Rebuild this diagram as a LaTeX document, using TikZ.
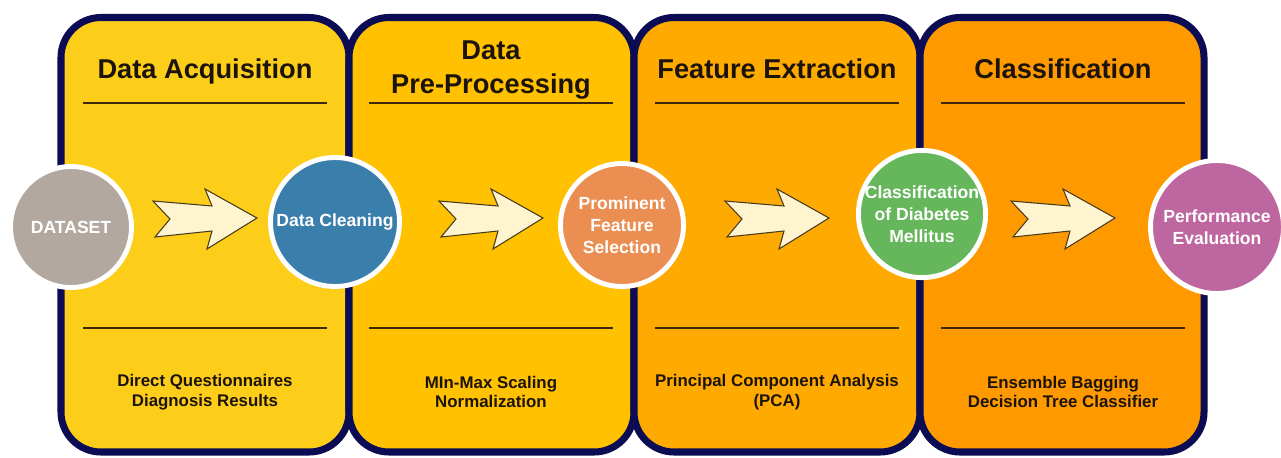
\documentclass[tikz,border=0pt]{standalone}
\usepackage{fontspec}
\setmainfont{Liberation Sans}
\usepackage{xcolor}
\definecolor{navy}{RGB}{12,12,84}
\definecolor{stageA}{RGB}{253,206,25}
\definecolor{stageB}{RGB}{255,193,0}
\definecolor{stageC}{RGB}{255,170,0}
\definecolor{stageD}{RGB}{255,153,0}
\definecolor{ink}{RGB}{28,20,12}
\definecolor{rulebrown}{RGB}{62,40,12}
\definecolor{arrowfill}{RGB}{255,244,208}
\definecolor{arrowline}{RGB}{70,58,28}
\definecolor{dsgray}{RGB}{178,168,160}
\definecolor{cleanblue}{RGB}{58,126,172}
\definecolor{featorange}{RGB}{235,142,82}
\definecolor{clsgreen}{RGB}{102,182,92}
\definecolor{evalpurple}{RGB}{190,102,160}
\usetikzlibrary{calc}
\tikzstyle{panel} = [
    draw=navy,
    line width=4pt,
    rounded corners=8mm,
]
\tikzstyle{rule} = [draw=rulebrown, line width=1.2pt]
\tikzstyle{title} = [
    text=ink, align=center,
    font=\bfseries\fontsize{15.5}{19.8}\selectfont,
]
\tikzstyle{note} = [
    text=ink, align=center,
    font=\bfseries\fontsize{9.6}{11.3}\selectfont,
]
\tikzstyle{stage} = [
    circle, inner sep=0pt,
    draw=white, line width=2.8pt,
    text=white, align=center,
    font=\bfseries\fontsize{10}{12.5}\selectfont,
]
\tikzstyle{blockarrow} = [draw=arrowline, fill=arrowfill, line width=0.6pt, line join=miter]
\tikzset{
    flow/.pic={
        \path[blockarrow] (-52,-18) -- (7,-13) -- (0,-30) -- (52,-1)
            -- (2,30) -- (7,12) -- (-50,18) -- (-35,0) -- cycle;
    }
}

\begin{document}
\begin{tikzpicture}[x=0.02cm, y=-0.02cm]
    \path[fill=white, use as bounding box] (0,0) rectangle (1281,457);

    % panels
    \foreach \l/\r/\c in {61/349/stageA, 349/634/stageB, 634/920/stageC, 920/1204/stageD} {
        \path[panel, fill=\c] (\l,17.5) rectangle (\r,452);
    }

    % rules
    \foreach \x in {205,491,777,1063} {
        \draw[rule] (\x-122,103) -- (\x+122,103);
        \draw[rule] (\x-122,328) -- (\x+122,328);
    }

    % titles
    \node[title, anchor=base] (tacq) at (205,78) {Data Acquisition};
    \node[title] (tpre) at (491,70) {Data\\Pre-Processing};
    \node[title, anchor=base] (tfeat) at (777,78) {Feature Extraction};
    \node[title, anchor=base] (tcls) at (1063,78) {Classification};

    % methods
    \node[note] (nacq) at (205,392) {Direct Questionnaires\\Diagnosis Results};
    \node[note] (npre) at (491,392) {MIn-Max Scaling\\Normalization};
    \node[note] (nfeat) at (777,392) {Principal Component Analysis\\(PCA)};
    \node[note] (ncls) at (1063,392) {Ensemble Bagging\\Decision Tree Classifier};

    % arrows
    \foreach \x in {205,491,777,1063} {
        \pic at (\x,219) {flow};
    }

    % stages
    \node[stage, fill=dsgray, minimum size=24.2mm] (dataset) at (71,227) {DATASET};
    \node[stage, fill=cleanblue, minimum size=25.8mm] (clean) at (335,222) {Data Cleaning};
    \node[stage, fill=featorange, minimum size=24.6mm] (feat) at (622,225) {Prominent\\Feature\\Selection};
    \node[stage, fill=clsgreen, minimum size=25.4mm] (cls) at (922,214) {Classification\\of Diabetes\\Mellitus};
    \node[stage, fill=evalpurple, minimum size=26.6mm] (eval) at (1217,227) {Performance\\Evaluation};
\end{tikzpicture}
\end{document}
